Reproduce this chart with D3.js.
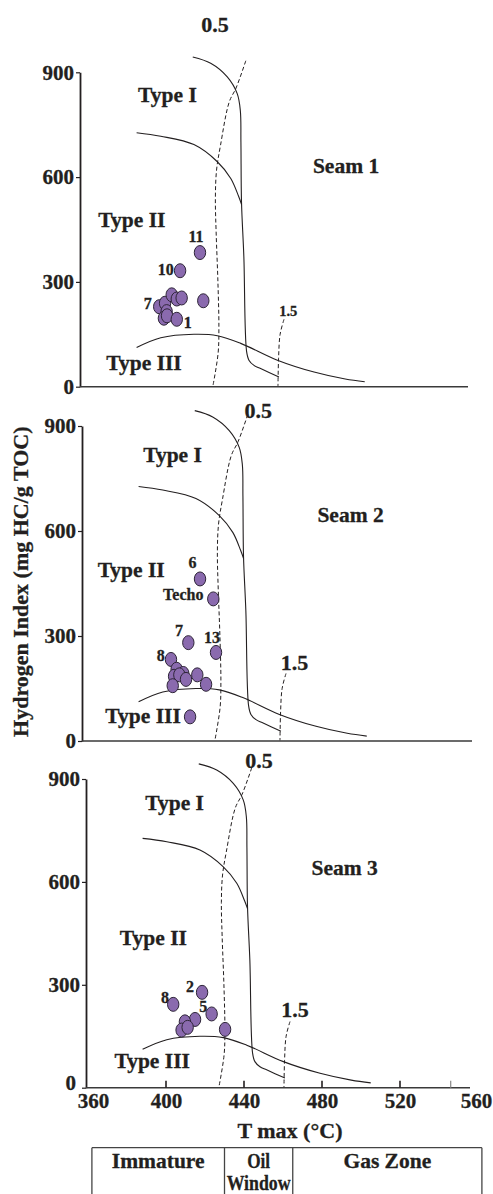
<!DOCTYPE html>
<html>
<head>
<meta charset="utf-8">
<script src="https://cdn.jsdelivr.net/npm/d3@7"></script>
<style>
  html, body { margin: 0; padding: 0; background: #fff; }
  svg { display: block; }
  text { font-family: "Liberation Serif", "Times New Roman", serif; font-weight: bold; fill: #231f20;
         stroke: #231f20; stroke-width: 0.3px; }
</style>
</head>
<body>
<svg id="chart" width="493" height="1194"></svg>
<script>
// ---------------- DATA ----------------
const tmaxDomain = [360, 560];
const hiDomain = [0, 900];
const hiTicks = [0, 300, 600, 900];
const tmaxTickLabels = [360, 400, 440, 480, 520, 560];
const tmaxTickMarks = [400, 440, 480, 520];
const tmaxMinorTick = [546];

const seamNames = ["Seam 1", "Seam 2", "Seam 3"];

// Seam 1 samples
const seam1Tmax = [399.6, 402.6, 403.4, 402.0, 403.6, 408.6, 406.0, 408.6, 411.1, 422.2, 410.3, 420.5];
const seam1HI   = [229, 239, 215, 196, 203, 193, 263, 251, 254, 246, 332, 384];
// Seam 2 samples
const seam2Tmax = [419.5, 426.3, 413.5, 427.7, 404.6, 407.5, 410.9, 406.2, 408.9, 412.3, 418.1, 422.6, 405.5, 414.4];
const seam2HI   = [463, 406, 281, 253, 233, 205, 193, 185, 189, 176, 189, 162, 158, 69];
// Seam 3 samples
const seam3Tmax = [418.5, 403.7, 423.4, 414.9, 409.7, 408.0, 411.1, 430.3];
const seam3HI   = [278, 243, 215, 199, 192, 168, 176, 170];

// Sample labels [text, Tmax, HI]
const seam1Labels = [["11", 418.5, 414], ["10", 402.9, 321], ["7", 393.7, 221], ["1", 414.2, 167]];
const seam2Labels = [["6", 415.7, 494], ["Techo", 410.9, 403], ["7", 408.7, 299], ["13", 425.6, 280], ["8", 399.3, 230]];
const seam3Labels = [["2", 412.3, 279], ["8", 399.5, 247], ["5", 419.1, 221]];

// Kerogen type boundary curves [Tmax, HI]
const typeICurve = [[416.8, 944], [426, 926], [434.5, 887], [439.6, 839], [441.2, 790], [441.5, 700], [441.8, 528],
                    [443, 372], [444.4, 101], [445.6, 76], [448.2, 61], [451.6, 52], [461, 28]];
const typeIICurve = [[388, 727], [400.4, 717], [417.4, 693], [429.4, 644], [436.3, 596], [440.3, 545], [441.8, 522]];
const typeIIICurve = [[388, 112], [400.4, 140], [417.4, 150], [429.4, 146], [441.4, 124], [460.2, 76],
                      [479, 42], [495, 22], [505, 14]];
// Vitrinite reflectance iso-lines
const ro05Curve = [[444, 933], [439, 855], [435.5, 815], [431, 690], [429, 620], [428.4, 540], [428.8, 440],
                   [429.7, 300], [430.2, 170], [429.8, 96], [427.2, 4]];
const ro15Curve = [[463.6, 193], [461.6, 150], [460.8, 80], [460.5, 2]];

const typeNames = ["Type I", "Type II", "Type III"];
const typeAnchors = [
  [[403.8, 814], [385.6, 458], [391.8, 48]],
  [[405.4, 798], [384.2, 469], [390.3, 51]],
  [[404.4, 810], [393.5, 416], [392.9, 57]]
];
const seamAnchors = [[495.4, 611], [496.7, 627], [491.6, 620]];
const roNames = ["0.5", "1.5"];
const roAnchors = [
  [[428.2, 1014], [465.8, 201]],
  [[449.4, 922], [468.0, 203]],
  [[447.7, 931], [466.2, 207]]
];

const zoneEdges = [362, 430, 465, 562];
const zoneNames = [["Immature"], ["Oil", "Window"], ["Gas Zone"]];

const yTitle = "Hydrogen Index (mg HC/g TOC)";
const xTitle = "T max (°C)";

// ---------------- LAYOUT ----------------
const panels = [
  { x0: 80, y0: 386.7, yTop: 72.3, xEnd: 468, small15: true },
  { x0: 82, y0: 741,   yTop: 426,  xEnd: 472, small15: false },
  { x0: 86, y0: 1087.7, yTop: 779, xEnd: 470, small15: false, xLabels: true }
];
const seamT = [seam1Tmax, seam2Tmax, seam3Tmax];
const seamH = [seam1HI, seam2HI, seam3HI];
const seamL = [seam1Labels, seam2Labels, seam3Labels];

const ink = "#231f20";
const svg = d3.select("#chart");
svg.append("rect").attr("width", 493).attr("height", 1194).attr("fill", "#fff");

let lastX = null;

panels.forEach((p, i) => {
  const x = d3.scaleLinear().domain(tmaxDomain).range([p.x0 + 2, p.x0 + 392]);
  const y = d3.scaleLinear().domain(hiDomain).range([p.y0, p.yTop]);
  const g = svg.append("g");

  // y axis
  const yAxis = d3.axisLeft(y).tickValues(hiTicks).tickSizeInner(4).tickSizeOuter(0).tickPadding(2);
  const ya = g.append("g").attr("transform", `translate(${p.x0},0)`).call(yAxis);
  ya.select(".domain").attr("stroke", ink).attr("stroke-width", 1.8);
  ya.selectAll(".tick line").attr("stroke", ink).attr("stroke-width", 1.2);
  ya.selectAll(".tick text").attr("font-size", 21).attr("font-family", null).attr("fill", ink);
  if (p.xLabels) {
    // lift the "0" label a little so it clears the "360" below it
    ya.selectAll(".tick").filter(d => d === 0).select("text").attr("dy", "0.1em").attr("x", -10);
  }

  // x axis line
  g.append("line").attr("x1", p.x0).attr("x2", p.xEnd).attr("y1", p.y0).attr("y2", p.y0)
    .attr("stroke", "#3a3a3a").attr("stroke-width", 1.5);

  if (p.xLabels) {
    const xAxis = d3.axisBottom(x).tickValues(tmaxTickLabels).tickSize(0).tickPadding(5);
    const xa = g.append("g").attr("transform", `translate(0,${p.y0})`).call(xAxis);
    xa.select(".domain").remove();
    xa.selectAll(".tick text").attr("font-size", 21).attr("font-family", null).attr("fill", ink);
    xa.selectAll(".tick").filter(d => d === 360).select("text").attr("dx", 5);
    xa.selectAll(".tick").filter(d => d === 560).select("text").attr("dx", -2);
    g.selectAll(".tmark").data(tmaxTickMarks).join("line")
      .attr("x1", d => x(d)).attr("x2", d => x(d)).attr("y1", p.y0).attr("y2", p.y0 - 7)
      .attr("stroke", ink).attr("stroke-width", 1.6);
    g.selectAll(".tminor").data(tmaxMinorTick).join("line")
      .attr("x1", d => x(d)).attr("x2", d => x(d)).attr("y1", p.y0).attr("y2", p.y0 - 7)
      .attr("stroke", "#888").attr("stroke-width", 1.2);
    lastX = x;
  }

  const line = d3.line().x(d => x(d[0])).y(d => y(d[1])).curve(d3.curveCatmullRom.alpha(0.5));
  [typeICurve, typeIICurve, typeIIICurve].forEach(c => {
    g.append("path").attr("d", line(c)).attr("fill", "none").attr("stroke", ink).attr("stroke-width", 1.1);
  });
  [ro05Curve, ro15Curve].forEach(c => {
    g.append("path").attr("d", line(c)).attr("fill", "none").attr("stroke", ink)
      .attr("stroke-width", 1).attr("stroke-dasharray", "4,2.5");
  });

  // region labels
  typeNames.forEach((t, k) => {
    g.append("text").attr("x", x(typeAnchors[i][k][0])).attr("y", y(typeAnchors[i][k][1]))
      .attr("text-anchor", "middle").attr("font-size", 21.5).text(t);
  });
  g.append("text").attr("x", x(seamAnchors[i][0])).attr("y", y(seamAnchors[i][1]))
    .attr("text-anchor", "middle").attr("font-size", 21.5).text(seamNames[i]);
  roNames.forEach((t, k) => {
    g.append("text").attr("x", x(roAnchors[i][k][0])).attr("y", y(roAnchors[i][k][1]))
      .attr("text-anchor", "middle")
      .attr("font-size", (k === 1 && p.small15) ? 14.5 : 22).text(t);
  });

  // sample labels (beneath points)
  g.selectAll(".slabel").data(seamL[i]).join("text")
    .attr("x", d => x(d[1])).attr("y", d => y(d[2]))
    .attr("text-anchor", "middle").attr("font-size", 16).text(d => d[0]);

  // points
  const pts = seamT[i].map((t, k) => [t, seamH[i][k]]);
  g.selectAll(".pt").data(pts).join("ellipse")
    .attr("cx", d => x(d[0])).attr("cy", d => y(d[1]))
    .attr("rx", 5.7).attr("ry", 7)
    .attr("fill", "#8a6aae").attr("stroke", "#2e2538").attr("stroke-width", 1);
});

// y title
svg.append("text").attr("transform", "translate(28,581.7) rotate(-90)")
  .attr("text-anchor", "middle").attr("font-size", 22).text(yTitle);
// x title
svg.append("text").attr("x", 290).attr("y", 1137.5).attr("text-anchor", "middle")
  .attr("font-size", 22).text(xTitle);

// maturity zone table
const tableTop = 1147.7;
const tg = svg.append("g");
tg.append("line").attr("x1", lastX(zoneEdges[0])).attr("x2", lastX(zoneEdges[zoneEdges.length - 1]))
  .attr("y1", tableTop).attr("y2", tableTop).attr("stroke", "#444").attr("stroke-width", 1.3);
tg.selectAll(".zedge").data(zoneEdges).join("line")
  .attr("x1", d => lastX(d)).attr("x2", d => lastX(d)).attr("y1", tableTop).attr("y2", 1194)
  .attr("stroke", "#444").attr("stroke-width", 1.3);
zoneNames.forEach((lines, k) => {
  const cx = (lastX(zoneEdges[k]) + lastX(zoneEdges[k + 1])) / 2;
  lines.forEach((t, j) => {
    const tx = tg.append("text").attr("x", cx).attr("y", 1168.3 + j * 22)
      .attr("text-anchor", "middle").attr("font-size", 21.5).text(t);
    if (lines.length > 1) {
      tx.attr("textLength", j === 0 ? 23 : 64).attr("lengthAdjust", "spacingAndGlyphs");
    }
  });
});
</script>
</body>
</html>
